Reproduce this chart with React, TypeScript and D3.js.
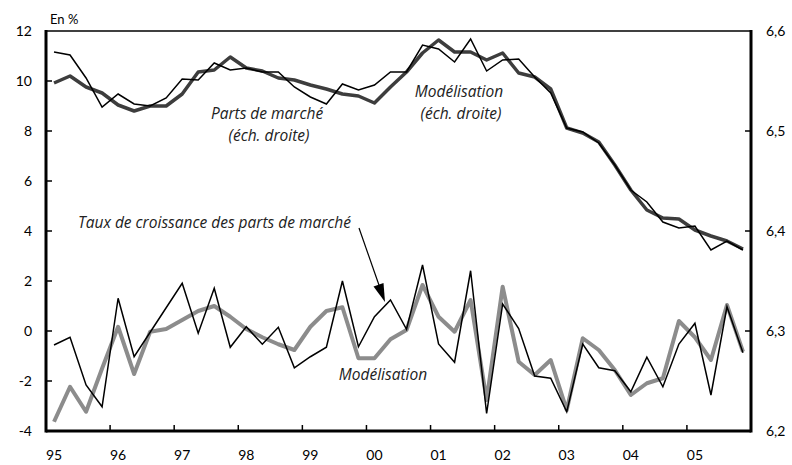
import React, { useEffect, useRef } from 'react';
import * as d3 from 'd3';

// trimestres 1995T1 -> 2005T4
const yearLabels = ['95', '96', '97', '98', '99', '00', '01', '02', '03', '04', '05'];

// parts de marché (log, éch. droite)
const partsMarche = [6.579, 6.576, 6.553, 6.524, 6.537, 6.527, 6.525, 6.533, 6.552, 6.551, 6.568, 6.561, 6.563, 6.559,
  6.559, 6.544, 6.534, 6.527, 6.547, 6.541, 6.546, 6.559, 6.559, 6.586, 6.582, 6.569, 6.592, 6.560, 6.571, 6.572,
  6.554, 6.538, 6.503, 6.499, 6.488, 6.466, 6.441, 6.429, 6.409, 6.403, 6.405, 6.381, 6.390, 6.381];

// modélisation (éch. droite)
const modelePdm = [6.548, 6.555, 6.544, 6.538, 6.526, 6.520, 6.525, 6.525, 6.537, 6.559, 6.561, 6.574, 6.563, 6.560,
  6.553, 6.551, 6.546, 6.542, 6.537, 6.535, 6.528, 6.544, 6.559, 6.578, 6.591, 6.579, 6.579, 6.571, 6.578, 6.558,
  6.554, 6.542, 6.503, 6.498, 6.489, 6.466, 6.441, 6.421, 6.413, 6.412, 6.401, 6.395, 6.390, 6.382];

// taux de croissance des parts de marché (en %)
const croissance = [-0.56, -0.25, -2.16, -3.03, 1.31, -1.03, -0.05, 0.93, 1.91, -0.09, 1.71, -0.65, 0.17, -0.53,
  0.15, -1.47, -1.03, -0.65, 2.0, -0.63, 0.57, 1.24, 0.07, 2.64, -0.52, -1.25, 2.41, -3.3, 1.08, 0.1,
  -1.8, -1.89, -3.23, -0.52, -1.47, -1.59, -2.43, -1.05, -2.23, -0.52, 0.31, -2.56, 0.97, -0.87];

// modélisation du taux de croissance
const modeleCroissance = [-3.63, -2.23, -3.23, -1.5, 0.17, -1.72, -0.03, 0.08, 0.44, 0.8, 1.0, 0.57, 0.08, -0.25,
  -0.53, -0.76, 0.17, 0.8, 0.95, -1.09, -1.09, -0.33, 0.04, 1.84, 0.57, -0.03, 1.24, -2.76, 1.77, -1.23,
  -1.76, -1.16, -3.16, -0.29, -0.76, -1.56, -2.56, -2.09, -1.89, 0.4, -0.25, -1.16, 1.04, -0.83];

const leftTicks = [-4, -2, 0, 2, 4, 6, 8, 10, 12];
const rightTicks = [6.2, 6.3, 6.4, 6.5, 6.6];

const FONT = 'Lato, "Open Sans", sans-serif';
const NOTE_FONT = '"Open Sans", Lato, sans-serif';

const Chart = ({ width, height, margin }) => {
  const svgRef = useRef(null);

  const draw = () => {
    const svg = d3.select(svgRef.current);
    svg.selectAll('*').remove();

    const x0 = margin.left;
    const x1 = width - margin.right;
    const y0 = height - margin.bottom;
    const y1 = margin.top;

    const xScale = d3.scaleLinear().domain([1995, 2006]).range([x0, x1]);
    const yLeft = d3.scaleLinear().domain([-4, 12]).range([y0, y1]);
    const yRight = d3.scaleLinear().domain([6.2, 6.6]).range([y0, y1]);
    const qx = (i) => xScale(1995 + (i + 0.5) / 4);

    const lineRight = d3.line().x((d, i) => qx(i)).y(d => yRight(d));
    const lineLeft = d3.line().x((d, i) => qx(i)).y(d => yLeft(d));

    // series
    svg.append('path').attr('d', lineRight(modelePdm))
      .attr('fill', 'none').attr('stroke', '#3d3d3d').attr('stroke-width', 3.5).attr('stroke-linejoin', 'round');
    svg.append('path').attr('d', lineRight(partsMarche))
      .attr('fill', 'none').attr('stroke', '#000').attr('stroke-width', 1.5).attr('stroke-linejoin', 'miter');
    svg.append('path').attr('d', lineLeft(modeleCroissance))
      .attr('fill', 'none').attr('stroke', '#8c8c8c').attr('stroke-width', 4).attr('stroke-linejoin', 'round');
    svg.append('path').attr('d', lineLeft(croissance))
      .attr('fill', 'none').attr('stroke', '#000').attr('stroke-width', 1.5).attr('stroke-linejoin', 'miter');

    // frame
    svg.append('line').attr('x1', x0).attr('x2', x1).attr('y1', y1).attr('y2', y1)
      .attr('stroke', '#000').attr('stroke-width', 1.5);
    svg.append('line').attr('x1', x0).attr('x2', x0).attr('y1', y1 - 1).attr('y2', y0 + 1.5)
      .attr('stroke', '#000').attr('stroke-width', 3);
    svg.append('line').attr('x1', x1).attr('x2', x1).attr('y1', y1 - 1).attr('y2', y0 + 1.5)
      .attr('stroke', '#000').attr('stroke-width', 3);
    svg.append('line').attr('x1', x0).attr('x2', x1).attr('y1', y0).attr('y2', y0)
      .attr('stroke', '#000').attr('stroke-width', 3);

    // left axis
    const gl = svg.append('g');
    gl.selectAll('line').data(leftTicks.filter(t => t > -4 && t < 12)).join('line')
      .attr('x1', x0).attr('x2', x0 + 6).attr('y1', d => yLeft(d)).attr('y2', d => yLeft(d))
      .attr('stroke', '#000').attr('stroke-width', 1.5);
    gl.selectAll('text').data(leftTicks).join('text')
      .attr('x', x0 - 14).attr('y', d => yLeft(d)).attr('dy', '0.35em')
      .attr('text-anchor', 'end').attr('font-size', 14).attr('font-family', FONT)
      .text(d => d);

    // right axis
    const gr = svg.append('g');
    gr.selectAll('line').data(rightTicks.filter(t => t > 6.2 && t < 6.6)).join('line')
      .attr('x1', x1 - 6).attr('x2', x1).attr('y1', d => yRight(d)).attr('y2', d => yRight(d))
      .attr('stroke', '#000').attr('stroke-width', 1.5);
    gr.selectAll('text').data(rightTicks).join('text')
      .attr('x', x1 + 15).attr('y', d => yRight(d)).attr('dy', '0.35em')
      .attr('font-size', 14).attr('font-family', FONT)
      .text(d => d3.format('.1f')(d).replace('.', ','));

    // bottom axis
    const gb = svg.append('g');
    gb.selectAll('line').data(d3.range(1996, 2006)).join('line')
      .attr('x1', d => xScale(d)).attr('x2', d => xScale(d)).attr('y1', y0).attr('y2', y0 - 6)
      .attr('stroke', '#000').attr('stroke-width', 1.5);
    gb.selectAll('text').data(yearLabels).join('text')
      .attr('x', (d, i) => xScale(1995 + i + 0.125)).attr('y', y0 + 24).attr('dy', '0.35em')
      .attr('text-anchor', 'middle').attr('font-size', 14).attr('font-family', FONT)
      .text(d => d);

    svg.append('text').attr('x', x0 + 4).attr('y', 19).attr('dy', '0.35em')
      .attr('font-size', 13).attr('font-family', FONT).text('En %');

    // annotations
    const notes = [
      { t: 'Parts de marché', x: 267, y: 114, a: 'middle' },
      { t: '(éch. droite)', x: 269, y: 136, a: 'middle' },
      { t: 'Modélisation', x: 459, y: 92, a: 'middle' },
      { t: '(éch. droite)', x: 461, y: 114, a: 'middle' },
      { t: 'Taux de croissance des parts de marché', x: 78, y: 223, a: 'start' },
      { t: 'Modélisation', x: 383, y: 375, a: 'middle' },
    ];
    svg.append('g').selectAll('text').data(notes).join('text')
      .attr('x', d => d.x).attr('y', d => d.y).attr('dy', '0.35em')
      .attr('text-anchor', d => d.a).attr('font-size', 15.5).attr('font-style', 'italic')
      .attr('font-family', NOTE_FONT).attr('fill', '#222')
      .text(d => d.t);

    // flèche
    svg.append('line').attr('x1', 359).attr('y1', 228).attr('x2', 380).attr('y2', 288)
      .attr('stroke', '#000').attr('stroke-width', 1.2);
    svg.append('path').attr('d', 'M385,302 L373.5,286.5 L383.5,283 Z').attr('fill', '#000');
  };

  useEffect(() => {
    draw();
  }, []);

  return (
    <svg ref={svgRef} width={width} height={height}
      style={{ position: 'absolute', left: 0, top: 0, background: '#fff' }} />
  );
};

export default function App() {
  return <Chart width={792} height={465} margin={{ top: 31, right: 41, bottom: 34, left: 46 }} />;
}
